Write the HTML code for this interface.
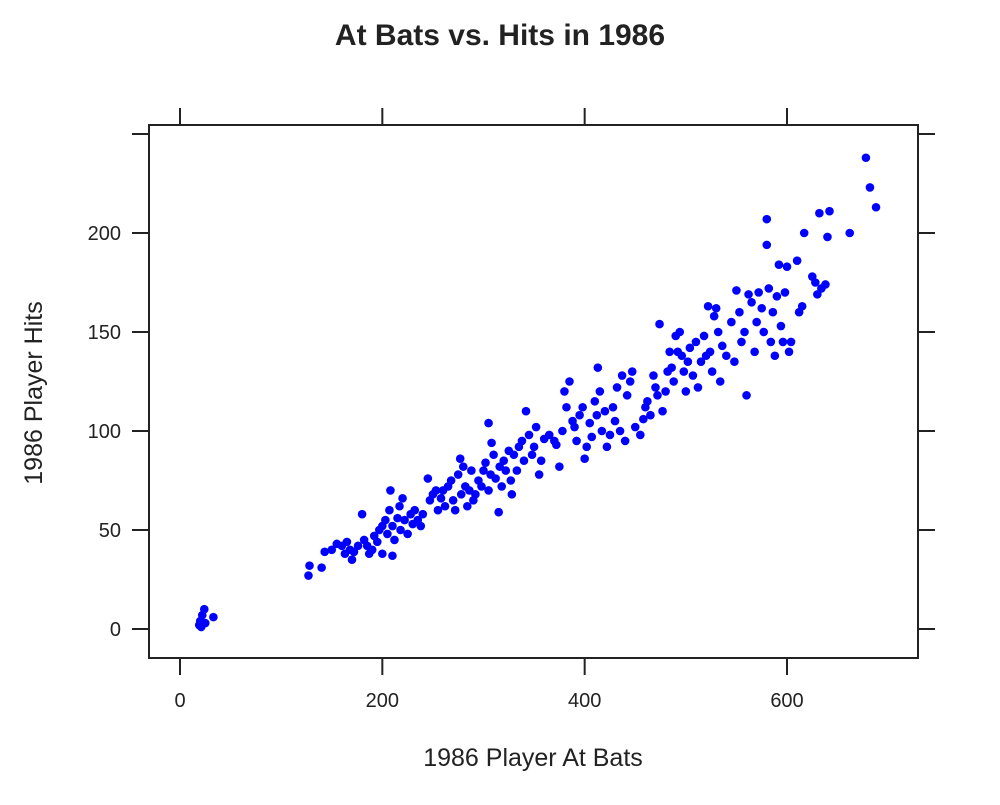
<!DOCTYPE html>
<html><head><meta charset="utf-8"><style>
body{margin:0;background:#fff}
svg text{font-family:"Liberation Sans",sans-serif;fill:#222}
</style></head><body>
<svg id="chart" width="1000" height="800" xmlns="http://www.w3.org/2000/svg">
<text x="500" y="45" text-anchor="middle" font-size="30" font-weight="bold">At Bats vs. Hits in 1986</text>
<rect x="149" y="125" width="769" height="533" fill="none" stroke="#222" stroke-width="2"/>
<g id="axes"></g>
<g id="points"></g>
<text x="533" y="766" text-anchor="middle" font-size="25">1986 Player At Bats</text>
<text transform="translate(42,393) rotate(-90)" text-anchor="middle" font-size="25">1986 Player Hits</text>
</svg>
<script>
const xTicks=[0,200,400,600];
const yTicks=[0,50,100,150,200,250];
const yLabels=["0","50","100","150","200",""];
const atBats=[19,20,22,24,21,33,25,127,128,140,143,150,155,160,163,165,168,170,172,176,180,182,185,187,190,192,195,197,200,200,203,205,207,208,210,210,212,215,217,218,220,222,225,228,230,232,235,238,240,245,247,250,253,255,258,260,262,265,268,270,272,275,277,278,280,282,284,286,288,290,292,295,298,300,302,305,305,307,308,310,312,315,316,318,320,322,325,327,328,330,333,335,338,340,342,345,348,350,352,355,357,360,365,370,372,375,378,380,382,385,388,390,392,395,398,400,402,405,407,410,412,413,415,417,420,422,425,428,430,432,435,437,440,442,445,447,450,455,458,460,462,465,468,470,472,474,477,480,482,484,486,488,490,492,494,496,498,500,502,504,507,510,512,515,518,520,522,524,526,528,530,532,534,536,540,545,548,550,553,555,558,560,562,565,568,570,572,575,577,580,580,582,584,586,588,590,592,594,596,598,600,602,604,610,612,615,617,625,628,630,632,634,638,640,642,662,678,682,688];
const hits=[2,4,7,10,1,6,3,27,32,31,39,40,43,42,38,44,40,35,39,42,58,45,42,38,40,47,44,50,52,38,55,48,60,70,37,52,45,56,62,50,66,55,48,58,53,60,55,52,58,76,65,68,70,60,66,70,62,72,75,65,60,78,86,68,82,72,62,70,80,65,68,75,72,80,84,104,70,78,94,88,76,59,82,72,85,80,90,75,68,88,80,92,95,85,110,98,88,92,102,78,85,96,98,95,93,82,100,120,112,125,105,102,95,108,112,86,92,104,97,115,108,132,120,100,110,92,98,112,105,122,100,128,95,118,125,130,102,98,106,112,115,108,128,122,118,154,110,120,130,140,132,125,148,140,150,138,130,120,135,142,128,145,122,135,148,138,163,140,130,158,162,150,125,143,138,155,135,171,160,145,150,118,169,165,140,155,170,162,150,207,194,172,145,160,138,168,184,153,145,170,183,140,145,186,160,163,200,178,175,169,210,172,174,198,211,200,238,223,213];
const xs=v=>180+v*(607/600);
const ys=v=>629-v*1.98;
const NS="http://www.w3.org/2000/svg";
const ax=document.getElementById('axes');
function mk(tag,attrs,parent){const e=document.createElementNS(NS,tag);for(const k in attrs)e.setAttribute(k,attrs[k]);parent.appendChild(e);return e;}
xTicks.forEach(t=>{
  const x=xs(t);
  const a=mk('line',{x1:x,x2:x,y1:658,y2:675,stroke:'#222','stroke-width':2},ax);
  
  
  const b=mk('line',{x1:x,x2:x,y1:108,y2:125,stroke:'#222','stroke-width':2},ax);
  
  
  const l=mk('text',{x:x,y:707,'text-anchor':'middle','font-size':20},ax);
  l.textContent=t;
  
  
});
yTicks.forEach((t,i)=>{
  const y=ys(t);
  const a=mk('line',{x1:132,x2:149,y1:y,y2:y,stroke:'#222','stroke-width':2},ax);
  
  
  const b=mk('line',{x1:918,x2:935,y1:y,y2:y,stroke:'#222','stroke-width':2},ax);
  
  
  const l=mk('text',{x:121,y:y+7,'text-anchor':'end','font-size':20},ax);
  l.textContent=yLabels[i];
  
  
});
const pg=document.getElementById('points');
atBats.forEach((a,i)=>{
  const c=mk('circle',{cx:xs(a),cy:ys(hits[i]),r:4.3,fill:'#0000ff'},pg);
  
  
});
</script>
</body></html>
